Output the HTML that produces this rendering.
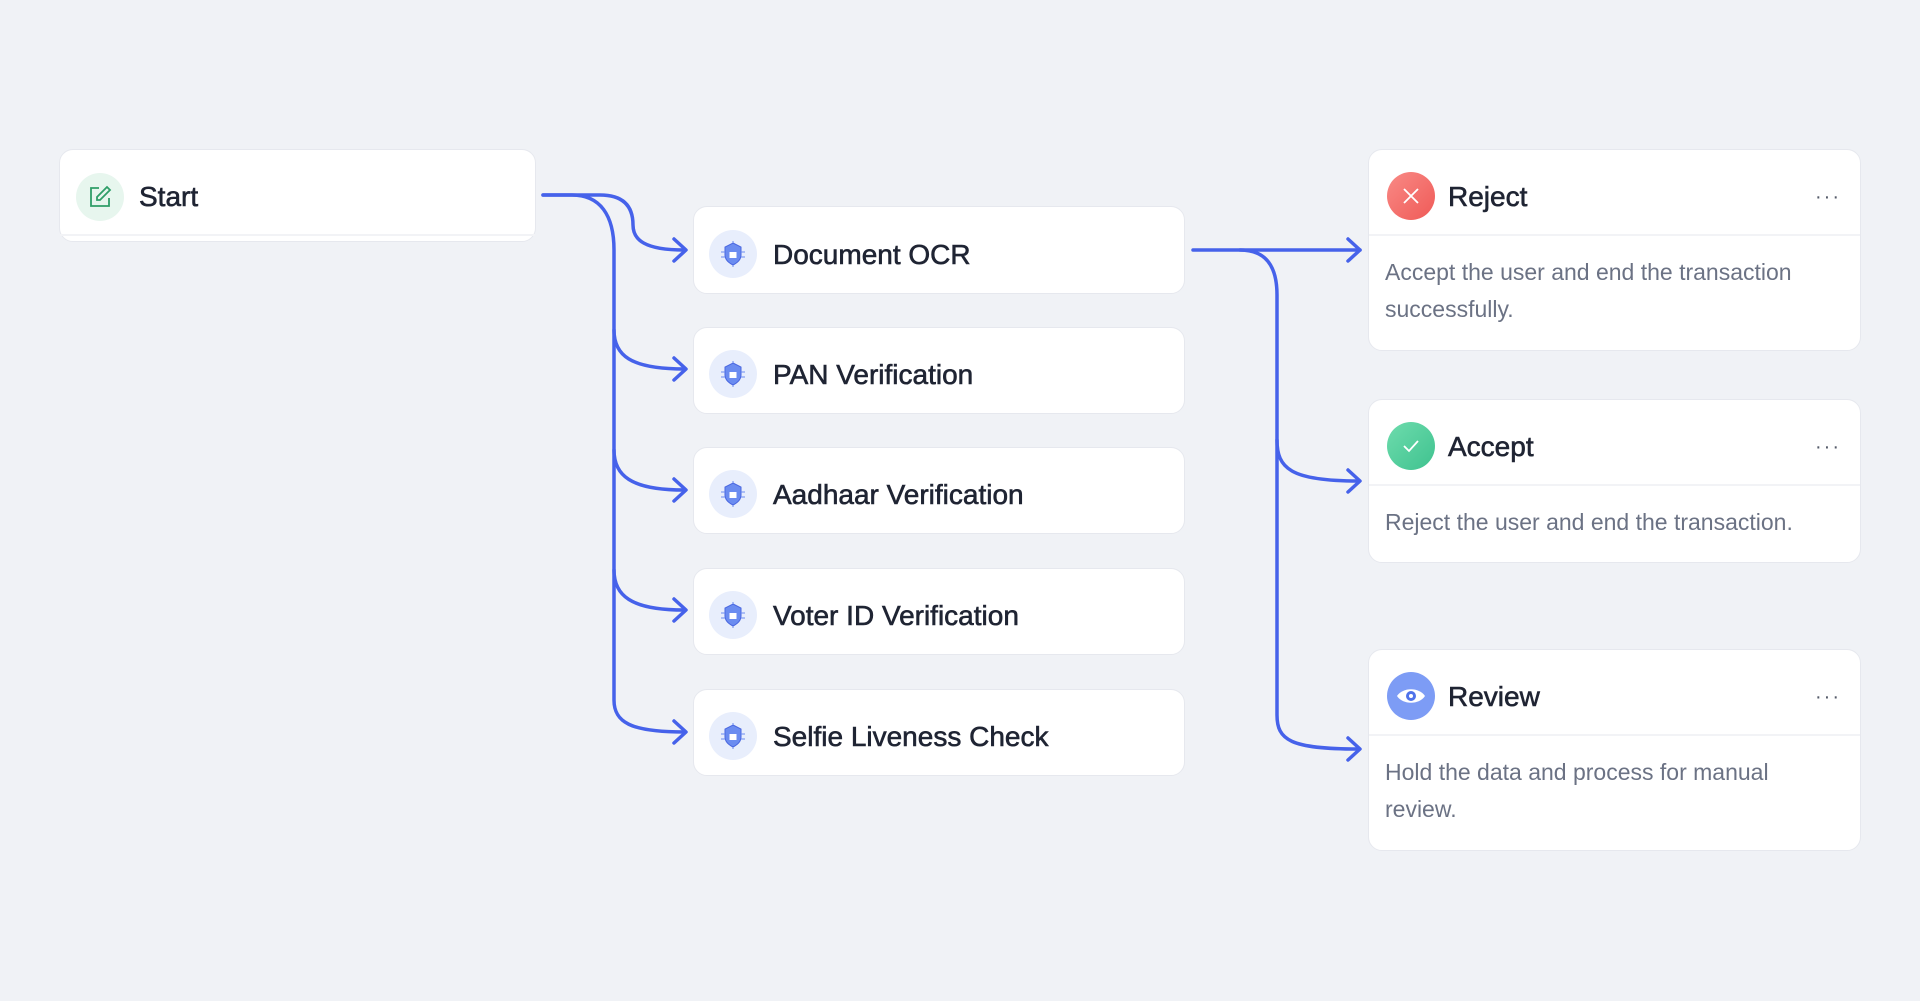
<!DOCTYPE html>
<html><head><meta charset="utf-8"><style>
body{margin:0;width:1920px;height:1001px;background:#f0f2f6;position:relative;overflow:hidden;font-family:"Liberation Sans",sans-serif;}
.box{position:absolute;background:#fff;border:1px solid #e6e8ee;border-radius:14px;box-sizing:border-box;}
.ic{position:absolute;width:48px;height:48px;border-radius:50%;}
.t{position:absolute;font-size:28px;color:#1f2433;line-height:1;-webkit-text-stroke:0.6px #1f2433;}
.d{position:absolute;font-size:23px;color:#6b7284;line-height:37px;}
.sep{position:absolute;left:0;right:0;height:2px;background:#f2f3f6;}
.dots{position:absolute;font-size:20px;color:#555b6a;letter-spacing:2px;}
</style></head><body>
<div class="box" style="left:59px;top:149px;width:477px;height:93px">
 <div class="ic" style="left:16px;top:23px;background:#e7f6ee"></div>
 <svg style="position:absolute;left:27px;top:34px" width="26" height="26" viewBox="0 0 26 26"><path d="M12 4H4v18h18v-8" fill="none" stroke="#2f9e68" stroke-width="1.8"/><path d="M20 3l3 3-10 10h-3v-3z" fill="none" stroke="#2f9e68" stroke-width="1.8"/></svg>
 <div class="t" style="left:79px;top:33px">Start</div>
 <div class="sep" style="top:84px"></div>
</div>

<div class="box" style="left:693px;top:206px;width:492px;height:88px"><div class="ic" style="left:15px;top:23px;background:#e8eefc"></div><svg style="position:absolute;left:25px;top:33px" width="28" height="28" viewBox="0 0 28 28"><path d="M14 3l8 4v8c0 5-4 8-8 10-4-2-8-5-8-10V7z" fill="#6b8cf0" stroke="#4a67e0"/><rect x="10.5" y="12" width="7" height="6" fill="#fff"/><path d="M2 12h4M2 17h4M22 12h4M22 17h4M14 1v2M14 25v2" stroke="#6b8cf0"/></svg><div class="t" style="left:79px;top:34px">Document OCR</div></div>
<div class="box" style="left:693px;top:327px;width:492px;height:87px"><div class="ic" style="left:15px;top:22px;background:#e8eefc"></div><svg style="position:absolute;left:25px;top:32px" width="28" height="28" viewBox="0 0 28 28"><path d="M14 3l8 4v8c0 5-4 8-8 10-4-2-8-5-8-10V7z" fill="#6b8cf0" stroke="#4a67e0"/><rect x="10.5" y="12" width="7" height="6" fill="#fff"/><path d="M2 12h4M2 17h4M22 12h4M22 17h4M14 1v2M14 25v2" stroke="#6b8cf0"/></svg><div class="t" style="left:79px;top:33px">PAN Verification</div></div>
<div class="box" style="left:693px;top:447px;width:492px;height:87px"><div class="ic" style="left:15px;top:22px;background:#e8eefc"></div><svg style="position:absolute;left:25px;top:32px" width="28" height="28" viewBox="0 0 28 28"><path d="M14 3l8 4v8c0 5-4 8-8 10-4-2-8-5-8-10V7z" fill="#6b8cf0" stroke="#4a67e0"/><rect x="10.5" y="12" width="7" height="6" fill="#fff"/><path d="M2 12h4M2 17h4M22 12h4M22 17h4M14 1v2M14 25v2" stroke="#6b8cf0"/></svg><div class="t" style="left:79px;top:33px">Aadhaar Verification</div></div>
<div class="box" style="left:693px;top:568px;width:492px;height:87px"><div class="ic" style="left:15px;top:22px;background:#e8eefc"></div><svg style="position:absolute;left:25px;top:32px" width="28" height="28" viewBox="0 0 28 28"><path d="M14 3l8 4v8c0 5-4 8-8 10-4-2-8-5-8-10V7z" fill="#6b8cf0" stroke="#4a67e0"/><rect x="10.5" y="12" width="7" height="6" fill="#fff"/><path d="M2 12h4M2 17h4M22 12h4M22 17h4M14 1v2M14 25v2" stroke="#6b8cf0"/></svg><div class="t" style="left:79px;top:33px">Voter ID Verification</div></div>
<div class="box" style="left:693px;top:689px;width:492px;height:87px"><div class="ic" style="left:15px;top:22px;background:#e8eefc"></div><svg style="position:absolute;left:25px;top:32px" width="28" height="28" viewBox="0 0 28 28"><path d="M14 3l8 4v8c0 5-4 8-8 10-4-2-8-5-8-10V7z" fill="#6b8cf0" stroke="#4a67e0"/><rect x="10.5" y="12" width="7" height="6" fill="#fff"/><path d="M2 12h4M2 17h4M22 12h4M22 17h4M14 1v2M14 25v2" stroke="#6b8cf0"/></svg><div class="t" style="left:79px;top:33px">Selfie Liveness Check</div></div>

<div class="box" style="left:1368px;top:149px;width:493px;height:202px">
 <div class="ic" style="left:18px;top:22px;background:linear-gradient(135deg,#f98a86,#ef5a57)"></div>
 <svg style="position:absolute;left:30px;top:34px" width="24" height="24"><path d="M5 5L19 19M19 5L5 19" stroke="#fff" stroke-width="1.8"/></svg>
 <div class="t" style="left:79px;top:33px">Reject</div><div class="dots" style="left:446px;top:36px">···</div>
 <div class="sep" style="top:84px"></div>
 <div class="d" style="left:16px;top:104px">Accept the user and end the transaction<br>successfully.</div>
</div>
<div class="box" style="left:1368px;top:399px;width:493px;height:164px">
 <div class="ic" style="left:18px;top:22px;background:linear-gradient(135deg,#6edcad,#3fc28f)"></div>
 <svg style="position:absolute;left:30px;top:34px" width="24" height="24"><path d="M5 12l5 5 9-10" fill="none" stroke="#fff" stroke-width="1.8"/></svg>
 <div class="t" style="left:79px;top:33px">Accept</div><div class="dots" style="left:446px;top:36px">···</div>
 <div class="sep" style="top:84px"></div>
 <div class="d" style="left:16px;top:104px">Reject the user and end the transaction.</div>
</div>
<div class="box" style="left:1368px;top:649px;width:493px;height:202px">
 <div class="ic" style="left:18px;top:22px;background:#7d9cf5"></div>
 <svg style="position:absolute;left:26px;top:34px" width="32" height="24"><path d="M2 12C8 3 24 3 30 12 24 21 8 21 2 12z" fill="#fff"/><circle cx="16" cy="12" r="5" fill="#4f72ea"/><circle cx="16" cy="12" r="2" fill="#fff"/></svg>
 <div class="t" style="left:79px;top:33px">Review</div><div class="dots" style="left:446px;top:36px">···</div>
 <div class="sep" style="top:84px"></div>
 <div class="d" style="left:16px;top:104px">Hold the data and process for manual<br>review.</div>
</div>

<svg style="position:absolute;left:0;top:0" width="1920" height="1001" fill="none" stroke="#4662ea" stroke-width="3.5" stroke-linecap="round" stroke-linejoin="round">
 <path d="M543,195 H600 C622,195 633,205 633,225 C633,240 645,250 684,250"/>
 <path d="M543,195 H572 C600,195 614,215 614,250 V700 C614,722 630,732 684,732"/>
 <path d="M614,330 C614,355 630,369 684,369"/>
 <path d="M614,450 C614,475 630,490 684,490"/>
 <path d="M614,570 C614,595 630,610 684,610"/>
 <path d="M674,239 L686,250 L674,261 M674,358 L686,369 L674,380 M674,479 L686,490 L674,501 M674,599 L686,610 L674,621 M674,721 L686,732 L674,743"/>
 <path d="M1193,250 H1360"/>
 <path d="M1240,250 C1265,250 1277,265 1277,295 V715 C1277,740 1290,749 1358,749"/>
 <path d="M1277,440 C1277,468 1290,481 1358,481"/>
 <path d="M1348,239 L1360,250 L1348,261 M1348,470 L1360,481 L1348,492 M1348,738 L1360,749 L1348,760"/>
</svg>
</body></html>
